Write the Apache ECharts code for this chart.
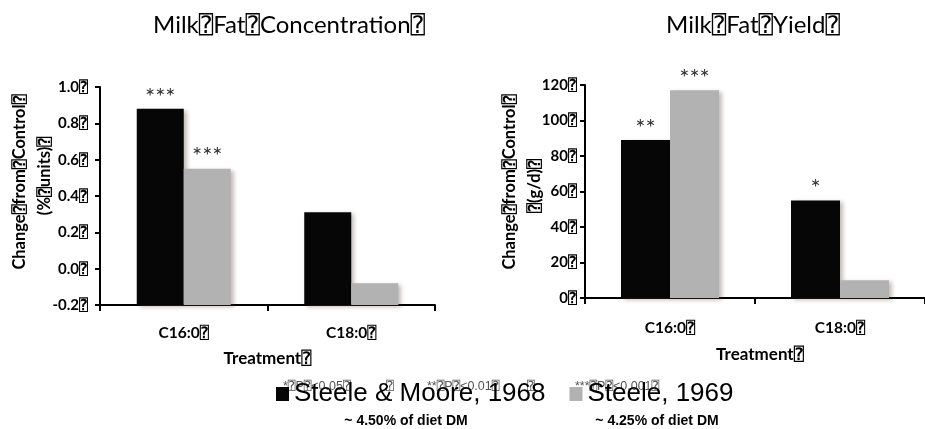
<!DOCTYPE html>
<html>
<head>
<meta charset="utf-8">
<title>Milk Fat</title>
<script src="https://cdn.jsdelivr.net/npm/echarts@6/dist/echarts.min.js"></script>
<style>
  html, body { margin: 0; padding: 0; background: #fff; }
  #chart { width: 925px; height: 429px; }
</style>
</head>
<body>
<div id="chart"></div>
<script>
// Placeholder glyph that follows each word in the exported labels
const BOX = '\u2370';

const categories = ['C16:0', 'C18:0'];
const seriesNames = ['Steele & Moore, 1968', 'Steele, 1969'];

// Change in milk fat concentration (% units)
const concMoore = [0.88, 0.31];
const concSteele = [0.55, -0.08];
const concSigMoore = ['***', ''];
const concSigSteele = ['***', ''];

// Change in milk fat yield (g/d)
const yieldMoore = [89, 55];
const yieldSteele = [117, 10];
const yieldSigMoore = ['**', '*'];
const yieldSigSteele = ['***', ''];

const concTicks = { min: -0.2, max: 1.0, interval: 0.2 };
const yieldTicks = { min: 0, max: 120, interval: 20 };

const pNotes = ['*' + BOX + 'P' + BOX + '<0.05' + BOX, BOX, '**' + BOX + 'P' + BOX + '<0.01' + BOX, BOX, '***' + BOX + 'P' + BOX + '<0.001' + BOX];
const dietNotes = ['~ 4.50% of diet DM', '~ 4.25% of diet DM'];

const CAL = "Lato, 'DejaVu Sans Mono', 'DejaVu Sans', sans-serif";
const ARIAL = "'Liberation Sans', Arial, 'DejaVu Sans Mono', sans-serif";
const colors = ['#060606', '#b2b2b2'];

const boxed = s => s.replace(/ /g, BOX) + BOX;

const chart = echarts.init(document.getElementById('chart'), null, { renderer: 'canvas' });

function barSeries(name, data, sig, axisIdx, color) {
  return {
    type: 'bar',
    name: name,
    xAxisIndex: axisIdx,
    yAxisIndex: axisIdx,
    data: data,
    barGap: '0%',
    barWidth: axisIdx === 0 ? 47 : 49,
    itemStyle: {
      color: color,
      shadowColor: 'rgba(90,70,50,0.35)',
      shadowBlur: 4,
      shadowOffsetX: 3,
      shadowOffsetY: 2
    },
    label: {
      show: true,
      position: 'top',
      distance: 0,
      formatter: p => sig[p.dataIndex],
      fontFamily: CAL,
      fontSize: 24,
      color: '#333'
    },
    emphasis: { disabled: true },
    animation: false
  };
}

const xAxisBase = {
  type: 'category',
  data: categories,
  axisLine: { onZero: false, lineStyle: { color: '#000', width: 2 } },
  axisTick: { show: true, length: 6, lineStyle: { color: '#000', width: 2 } },
  name: boxed('Treatment'),
  nameLocation: 'middle',
  nameTextStyle: { fontFamily: CAL, fontWeight: 'bold', fontSize: 17, color: '#000' }
};

const xLabel = margin => ({
  formatter: v => v + BOX,
  fontFamily: CAL, fontWeight: 'bold', fontSize: 15.5, color: '#000', margin: margin
});

const yAxisBase = {
  type: 'value',
  axisLine: { show: true, lineStyle: { color: '#000', width: 2 } },
  axisTick: { show: true, length: 5, lineStyle: { color: '#000', width: 2 } },
  splitLine: { show: false }
};

function rotText(text, x, y) {
  return {
    type: 'text',
    x: x, y: y,
    rotation: Math.PI / 2,
    style: {
      text: text,
      fontFamily: CAL, fontWeight: 'bold', fontSize: 16.5, fill: '#000',
      textAlign: 'center', textVerticalAlign: 'middle'
    }
  };
}

const noteStyle = text => ({ text: text, fontFamily: ARIAL, fontSize: 12.5, fill: '#555', textVerticalAlign: 'middle' });

const option = {
  backgroundColor: '#fff',
  animation: false,
  title: [
    {
      text: boxed('Milk Fat Concentration'),
      left: 284, top: 8, textAlign: 'center',
      textStyle: { fontFamily: CAL, fontWeight: 'normal', fontSize: 24, color: '#000' }
    },
    {
      text: boxed('Milk Fat Yield'),
      left: 748, top: 8, textAlign: 'center',
      textStyle: { fontFamily: CAL, fontWeight: 'normal', fontSize: 24, color: '#000' }
    }
  ],
  legend: {
    data: seriesNames,
    left: 271, top: 376,
    z: 10,
    icon: 'rect',
    itemWidth: 13, itemHeight: 14,
    itemGap: 24,
    selectedMode: false,
    textStyle: { fontFamily: ARIAL, fontSize: 26, color: '#000' }
  },
  grid: [
    { left: 100, top: 87, width: 335, height: 218 },
    { left: 585, top: 85, width: 352, height: 213 }
  ],
  xAxis: [
    Object.assign({}, xAxisBase, { gridIndex: 0, nameGap: 45, axisLabel: xLabel(20) }),
    Object.assign({}, xAxisBase, { gridIndex: 1, nameGap: 48, axisLabel: xLabel(22),
      nameTextStyle: Object.assign({}, xAxisBase.nameTextStyle, { padding: [0, 0, 0, 10] }) })
  ],
  yAxis: [
    Object.assign({}, yAxisBase, {
      gridIndex: 0,
      min: concTicks.min, max: concTicks.max, interval: concTicks.interval,
      startValue: concTicks.min,
      axisLabel: {
        formatter: v => (Math.abs(v) < 1e-9 ? '0.0' : v.toFixed(1)) + BOX,
        fontFamily: CAL, fontWeight: 'bold', fontSize: 15, color: '#000', margin: 12
      }
    }),
    Object.assign({}, yAxisBase, {
      gridIndex: 1,
      min: yieldTicks.min, max: yieldTicks.max, interval: yieldTicks.interval,
      axisLabel: {
        formatter: v => v + BOX,
        fontFamily: CAL, fontWeight: 'bold', fontSize: 15, color: '#000', margin: 8
      }
    })
  ],
  series: [
    barSeries(seriesNames[0], concMoore, concSigMoore, 0, colors[0]),
    barSeries(seriesNames[1], concSteele, concSigSteele, 0, colors[1]),
    barSeries(seriesNames[0], yieldMoore, yieldSigMoore, 1, colors[0]),
    barSeries(seriesNames[1], yieldSteele, yieldSigSteele, 1, colors[1])
  ],
  graphic: [
    rotText(boxed('Change from Control'), 20, 182),
    rotText('(%' + BOX + 'units)' + BOX, 45, 176),
    rotText(boxed('Change from Control'), 510, 182),
    rotText(BOX + '(g/d)' + BOX, 535, 186),
    {
      type: 'group', z: 0,
      children: [
        { type: 'text', x: 283, y: 387, style: noteStyle(pNotes[0]) },
        { type: 'text', x: 386, y: 387, style: noteStyle(pNotes[1]) },
        { type: 'text', x: 427, y: 387, style: noteStyle(pNotes[2]) },
        { type: 'text', x: 527, y: 387, style: noteStyle(pNotes[3]) },
        { type: 'text', x: 575, y: 387, style: noteStyle(pNotes[4]) }
      ]
    },
    { type: 'text', x: 406, y: 421, style: { text: dietNotes[0], fontFamily: ARIAL, fontWeight: 'bold', fontSize: 14, fill: '#000', textAlign: 'center', textVerticalAlign: 'middle' } },
    { type: 'text', x: 657, y: 421, style: { text: dietNotes[1], fontFamily: ARIAL, fontWeight: 'bold', fontSize: 14, fill: '#000', textAlign: 'center', textVerticalAlign: 'middle' } }
  ]
};

chart.setOption(option);
</script>
</body>
</html>
